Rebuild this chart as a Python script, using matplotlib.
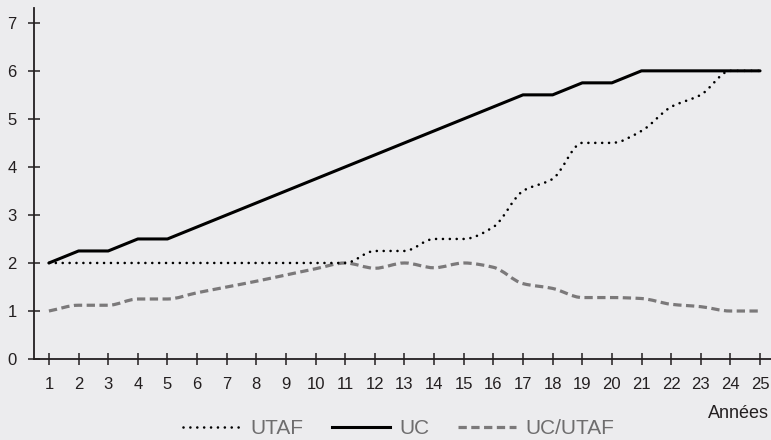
import numpy as np
import matplotlib
matplotlib.use("Agg")
import matplotlib.pyplot as plt
from matplotlib.path import Path
from matplotlib.patches import PathPatch
from matplotlib.lines import Line2D

plt.rcParams['font.family'] = ['Liberation Sans', 'DejaVu Sans']

years = list(range(1, 26))
utaf = [2, 2, 2, 2, 2, 2, 2, 2, 2, 2, 2, 2.25, 2.25, 2.5, 2.5, 2.75,
        3.5, 3.75, 4.5, 4.5, 4.75, 5.25, 5.5, 6, 6]
uc = [2, 2.25, 2.25, 2.5, 2.5, 2.75, 3, 3.25, 3.5, 3.75, 4, 4.25, 4.5,
      4.75, 5, 5.25, 5.5, 5.5, 5.75, 5.75, 6, 6, 6, 6, 6]
ratio = [1, 1.12, 1.12, 1.25, 1.25, 1.38, 1.5, 1.62, 1.75, 1.88, 2, 1.89,
         2, 1.9, 2, 1.91, 1.57, 1.47, 1.28, 1.28, 1.26, 1.14, 1.09, 1, 1]
labels = ["UTAF", "UC", "UC/UTAF"]

BG = "#ececee"
INK = "#231f20"
GREY = "#7b797a"


def smooth_path(x, y):
    """Monotone cubic Bezier path through the points (no overshoot)."""
    x = np.asarray(x, float)
    y = np.asarray(y, float)
    h = np.diff(x)
    d = np.diff(y) / h
    m = np.empty_like(y)
    m[0], m[-1] = d[0], d[-1]
    for k in range(1, len(y) - 1):
        if d[k - 1] * d[k] <= 0:
            m[k] = 0.0
        else:
            m[k] = 2.0 / (1.0 / d[k - 1] + 1.0 / d[k])
    verts = [(x[0], y[0])]
    codes = [Path.MOVETO]
    for i in range(len(x) - 1):
        c1 = (x[i] + h[i] / 3, y[i] + m[i] * h[i] / 3)
        c2 = (x[i + 1] - h[i] / 3, y[i + 1] - m[i + 1] * h[i] / 3)
        verts += [c1, c2, (x[i + 1], y[i + 1])]
        codes += [Path.CURVE4] * 3
    return Path(verts, codes)


fig = plt.figure(figsize=(7.71, 4.40), dpi=100, facecolor=BG)
ax = fig.add_axes([0.0435, 0.184, 0.9565, 0.798], facecolor=BG)

dot_style = dict(color="black", lw=1.9, linestyle=(0, (0.01, 2.6)))
solid_style = dict(color="black", lw=2.2, linestyle="-")
dash_style = dict(color=GREY, lw=2.3, linestyle=(0, (2.6, 1.4)))

ax.add_patch(PathPatch(smooth_path(years, ratio), fill=False, zorder=2,
                       capstyle="butt", **dash_style))
ax.add_patch(PathPatch(smooth_path(years, utaf), fill=False, zorder=3,
                       capstyle="round", **dot_style))
ax.plot(years, uc, zorder=4, solid_capstyle="round", **solid_style)

ax.set_xlim(0.48, 25.37)
ax.set_ylim(0, 7.31)
ax.set_xticks(years)
ax.set_yticks(range(0, 8))

for side in ("top", "right"):
    ax.spines[side].set_visible(False)
for side in ("left", "bottom"):
    ax.spines[side].set_color(INK)
    ax.spines[side].set_linewidth(1.3)

ax.tick_params(axis="both", direction="inout", length=8, width=1.1,
               color=INK, labelcolor=INK, labelsize=12)
ax.tick_params(axis="x", pad=9)
ax.tick_params(axis="y", pad=8)

fig.text(0.997, 0.041, "Années", ha="right", va="bottom",
         fontsize=13, color=INK)

handles = [Line2D([], [], dash_capstyle="round", **dot_style),
           Line2D([], [], **solid_style),
           Line2D([], [], dash_capstyle="butt", **dash_style)]
leg = fig.legend(handles, labels, loc="center", bbox_to_anchor=(0.517, 0.026),
                 ncol=3, frameon=False, fontsize=15, handlelength=2.75,
                 handletextpad=0.45, columnspacing=1.4, borderpad=0)
for t in leg.get_texts():
    t.set_color("#6e6d6e")

fig.savefig("out.png", dpi=100, facecolor=BG)
